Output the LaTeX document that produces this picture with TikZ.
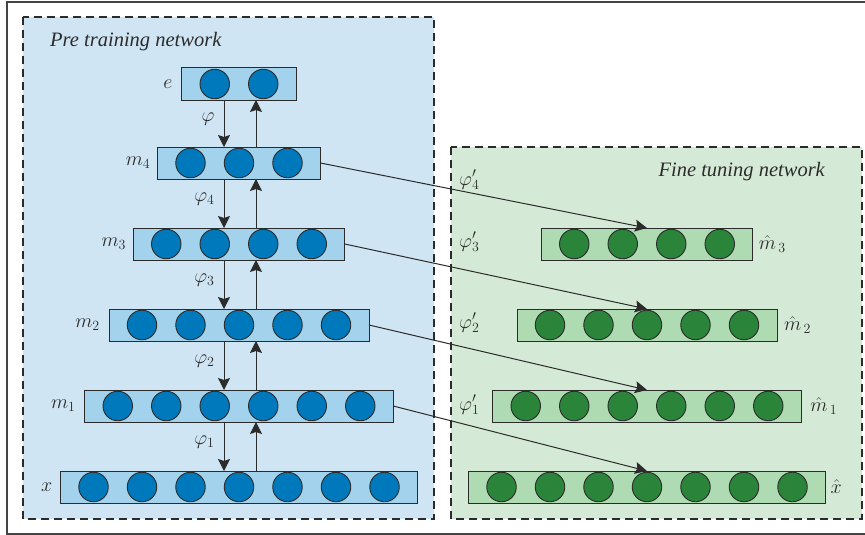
\RequirePackage{fix-cm}
\documentclass[tikz,border=0pt]{standalone}
\usepackage{fontspec}
\setmainfont{Liberation Serif}
\usetikzlibrary{arrows.meta,calc}
\definecolor{bluebg}{HTML}{CFE5F3}
\definecolor{bluelayer}{HTML}{A3D2EC}
\definecolor{blueneuron}{HTML}{0079BC}
\definecolor{greenbg}{HTML}{D5EAD6}
\definecolor{greenlayer}{HTML}{AEDBB2}
\definecolor{greenneuron}{HTML}{2A8439}
\definecolor{edgecol}{HTML}{2B2B2B}
\definecolor{framecol}{HTML}{444444}
\tikzset{
  bluebox/.style={draw=edgecol, fill=bluelayer, line width=1pt, inner sep=0pt, outer sep=0pt},
  greenbox/.style={draw=edgecol, fill=greenlayer, line width=1pt, inner sep=0pt, outer sep=0pt},
  neuronblue/.style={circle, draw=edgecol, fill=blueneuron, minimum size=29.5pt, inner sep=0pt, line width=0.9pt},
  neurongreen/.style={circle, draw=edgecol, fill=greenneuron, minimum size=29.5pt, inner sep=0pt, line width=0.9pt},
  arr/.style={-{Stealth[length=12pt,width=12pt,inset=2pt]}, draw=edgecol, line width=1pt},
  lab/.style={font=\fontsize{20}{23}\selectfont, text=edgecol, inner sep=0pt},
  titletext/.style={font=\fontsize{20.5}{24}\selectfont\itshape, text=edgecol, inner sep=0pt},
  regionbox/.style={draw=edgecol, line width=1.1pt, dash pattern=on 8pt off 5pt},
}
\newcommand{\nnlayer}[6]{%
  \pgfmathsetmacro{\lw}{(#4-1)*48.5+66}%
  \node[#5, minimum width=\lw pt, minimum height=32pt] (#1) at (#2,#3) {};%
  \foreach \i in {1,...,#4}{%
    \pgfmathsetmacro{\dx}{(\i-(#4+1)/2)*48.5}%
    \node[#6] (#1-\i) at ($(#1.center)+(\dx,0)$) {};%
  }%
}
\begin{document}
\begin{tikzpicture}[x=1pt,y=-1pt]
\useasboundingbox (0,0) rectangle (865,535);
% outer frame
\draw[framecol, line width=1.3pt] (870,2) -- (7,2) -- (7,534) -- (870,534);
% region boxes
\draw[regionbox, fill=bluebg] (23,17) rectangle (434,519);
\draw[regionbox, fill=greenbg] (451,147) rectangle (862,519);
\node[titletext, anchor=west] (pretitle) at (50,42) {Pre training network};
\node[titletext, anchor=east] (finetitle) at (825,172) {Fine tuning network};
% pre-training layers
\nnlayer{e}{239}{84}{2}{bluebox}{neuronblue}
\nnlayer{m4}{239}{163}{3}{bluebox}{neuronblue}
\nnlayer{m3}{239}{244}{4}{bluebox}{neuronblue}
\nnlayer{m2}{239}{325}{5}{bluebox}{neuronblue}
\nnlayer{m1}{239}{406}{6}{bluebox}{neuronblue}
\nnlayer{x}{239}{487}{7}{bluebox}{neuronblue}
% fine-tuning layers
\nnlayer{h3}{647}{244}{4}{greenbox}{neurongreen}
\nnlayer{h2}{647}{325}{5}{greenbox}{neurongreen}
\nnlayer{h1}{647}{406}{6}{greenbox}{neurongreen}
\nnlayer{hx}{647}{487}{7}{greenbox}{neurongreen}
% left labels
\node[lab, anchor=east] (le) at ([xshift=-9pt]e.west) {$e$};
\node[lab, anchor=east] (lm4) at ([xshift=-7pt]m4.west) {$m_4$};
\node[lab, anchor=east] (lm3) at ([xshift=-7pt]m3.west) {$m_3$};
\node[lab, anchor=east] (lm2) at ([xshift=-9pt]m2.west) {$m_2$};
\node[lab, anchor=east] (lm1) at ([xshift=-9pt]m1.west) {$m_1$};
\node[lab, anchor=east] (lx) at ([xshift=-8pt]x.west) {$x$};
% right labels
\node[lab, anchor=west] (lh3) at ([xshift=6pt]h3.east) {${\hat{m}}_{\,3}$};
\node[lab, anchor=west] (lh2) at ([xshift=7pt]h2.east) {${\hat{m}}_{\,2}$};
\node[lab, anchor=west] (lh1) at ([xshift=9pt]h1.east) {${\hat{m}}_{\,1}$};
\node[lab, anchor=west] (lhx) at ([xshift=5pt]hx.east) {$\hat{x}$};
% phi' labels
\node[lab, anchor=west] (p4) at (459,180) {$\varphi'_4$};
\node[lab, anchor=west] (p3) at (459,242) {$\varphi'_3$};
\node[lab, anchor=west] (p2) at (459,323) {$\varphi'_2$};
\node[lab, anchor=west] (p1) at (459,405) {$\varphi'_1$};
% vertical arrows
\foreach \up/\lo/\lbl in {e/m4/\varphi, m4/m3/\varphi_4, m3/m2/\varphi_3, m2/m1/\varphi_2, m1/x/\varphi_1}{
  \draw[arr] ([xshift=-15pt]\up.south) -- ([xshift=-15pt]\up.south |- \lo.north)
    node[lab, midway, anchor=east, xshift=-9pt, yshift=4pt] {$\lbl$};
  \draw[arr] ([xshift=17pt]\lo.north) -- ([xshift=17pt]\lo.north |- \up.south);
}
% transfer arrows
\draw[arr] (m4.east) -- (h3.north);
\draw[arr] (m3.east) -- (h2.north);
\draw[arr] (m2.east) -- (h1.north);
\draw[arr] (m1.east) -- (hx.north);
\end{tikzpicture}
\end{document}
